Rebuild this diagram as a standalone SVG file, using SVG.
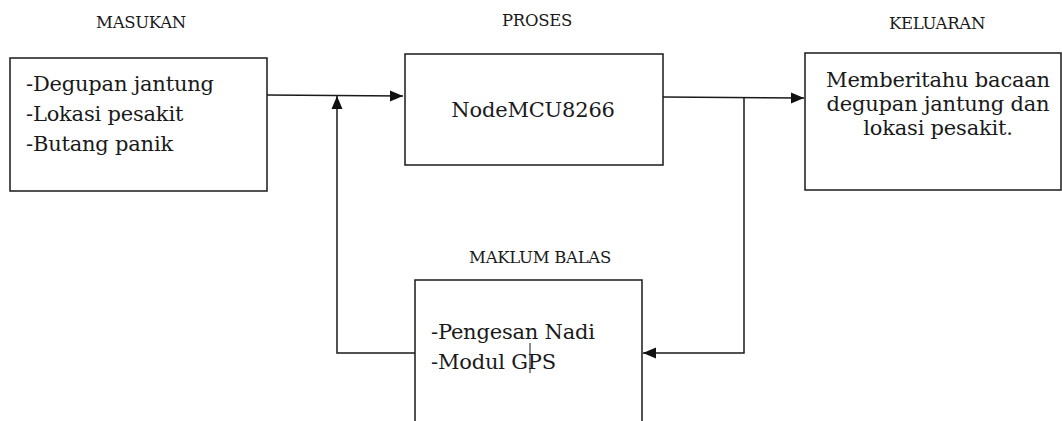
<svg xmlns="http://www.w3.org/2000/svg" width="1062" height="421" viewBox="0 0 1062 421">
<style>
text{fill:#1a1a1a;font-family:"DejaVu Serif","Liberation Serif",serif}
.lbl{font-size:16.5px;letter-spacing:-0.3px}
.body{font-size:21px;letter-spacing:-0.2px}
.box{fill:#fff;stroke:#1a1a1a;stroke-width:1.5}
.ln{fill:none;stroke:#1a1a1a;stroke-width:1.5}
</style>
<defs>
<marker id="ah" markerUnits="userSpaceOnUse" markerWidth="14" markerHeight="12" refX="13" refY="6" orient="auto">
<path d="M0,0.5 L13,6 L0,11.5 z" fill="#111"/>
</marker>
</defs>
<rect width="1062" height="421" fill="#fff"/>
<g id="connectors">
<path class="ln" d="M267,95 L403,96" marker-end="url(#ah)"/>
<path class="ln" d="M663,97 L804,98" marker-end="url(#ah)"/>
<path class="ln" d="M744,97 L744,353 L643,353" marker-end="url(#ah)"/>
<path class="ln" d="M415,353 L337,353 L337,96" marker-end="url(#ah)"/>
</g>
<g id="masukan">
<text class="lbl" x="141" y="28" text-anchor="middle">MASUKAN</text>
<rect class="box" x="10" y="58" width="257" height="133"/>
<text class="body" x="26" y="91">-Degupan jantung</text>
<text class="body" x="26" y="121">-Lokasi pesakit</text>
<text class="body" x="26" y="151">-Butang panik</text>
</g>
<g id="proses">
<text class="lbl" x="537" y="26" text-anchor="middle">PROSES</text>
<rect class="box" x="405" y="54" width="258" height="111"/>
<text class="body" x="533" y="117" text-anchor="middle">NodeMCU8266</text>
</g>
<g id="keluaran">
<text class="lbl" x="937" y="29" text-anchor="middle">KELUARAN</text>
<rect class="box" x="805" y="53" width="256" height="137"/>
<text class="body" x="938" y="87" text-anchor="middle">Memberitahu bacaan</text>
<text class="body" x="938" y="111" text-anchor="middle">degupan jantung dan</text>
<text class="body" x="938" y="135" text-anchor="middle">lokasi pesakit.</text>
</g>
<g id="maklum-balas">
<text class="lbl" x="540" y="263" text-anchor="middle">MAKLUM BALAS</text>
<rect class="box" x="415" y="280" width="227" height="160"/>
<text class="body" x="431" y="339">-Pengesan Nadi</text>
<text class="body" x="431" y="369">-Modul GPS</text>
<line x1="530" y1="343" x2="530" y2="373" stroke="#1a1a1a" stroke-width="1"/>
</g>
</svg>
